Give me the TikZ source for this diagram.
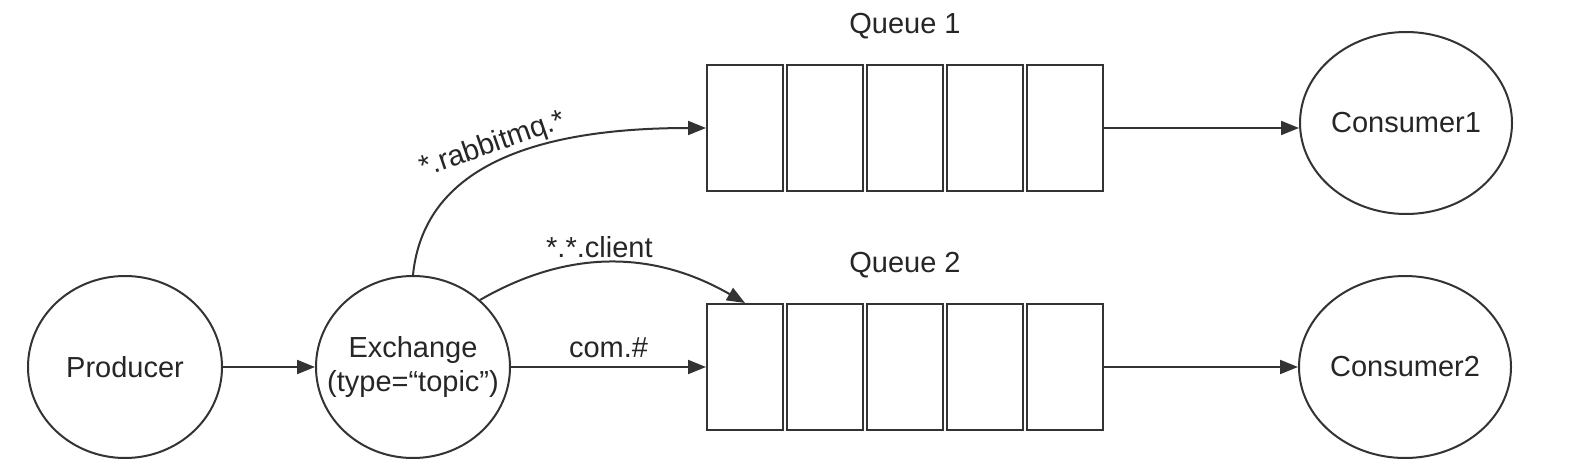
\documentclass[tikz,border=0pt]{standalone}
\usepackage{fontspec}
\setmainfont{Liberation Sans}
\usepackage{xcolor}
\usetikzlibrary{arrows.meta, positioning, shapes.geometric}

\begin{document}
\begin{tikzpicture}[
        x=0.5pt, y=0.5pt,
        endpoint/.style={draw, ellipse, line width=1pt, draw=black!80,
            minimum width=97pt, minimum height=91pt, inner sep=0pt,
            align=center, text=black!85, font=\fontsize{14.5}{17}\selectfont},
        slot/.style={draw, line width=1pt, draw=black!80,
            minimum width=38pt, minimum height=63pt, inner sep=0pt},
        qlabel/.style={text=black!85, font=\fontsize{14.5}{17}\selectfont},
        keylabel/.style={text=black!85, font=\fontsize{14.5}{17}\selectfont, inner sep=2pt},
        arrow/.style={-{Triangle[length=9pt, width=7pt]}, line width=1pt, color=black!80},
    ]
        \useasboundingbox (0,0) rectangle (1579,467);

        % Producer and exchange
        \node[endpoint] (producer) at (125,100) {Producer};
        \node[endpoint, inner sep=-12pt] (exchange) at (413,100) {Exchange\\(type=“topic”)};

        % Queues
        \foreach \i in {1,...,5} {
            \node[slot] (q1\i) at ({745+(\i-1)*80},339) {};
            \node[slot] (q2\i) at ({745+(\i-1)*80},100) {};
        }
        \node[qlabel, above=9pt of q13] (queue1) {Queue 1};
        \node[qlabel, above=9pt of q23] (queue2) {Queue 2};

        % Consumers
        \node[endpoint] (consumer1) at (1406,344) {Consumer1};
        \node[endpoint] (consumer2) at (1405,100) {Consumer2};

        % Arrows
        \draw[arrow] (producer.east) -- (exchange.west);
        \draw[arrow] (exchange.north) .. controls +(10,100) and +(-187,0) .. (q11.west);
        \node[keylabel, rotate=19] (rabbit) at (493,322) {*.rabbitmq.*};
        \draw[arrow] (exchange.45) to[out=30, in=150]
            node[keylabel, above, pos=0.45] (client) {*.*.client} (q21.north);
        \draw[arrow] (exchange.east) --
            node[keylabel, above=2pt] (com) {com.\#} (q21.west);
        \draw[arrow] (q15.east) -- (q15.east -| consumer1.west);
        \draw[arrow] (q25.east) -- (consumer2.west);

\end{tikzpicture}
\end{document}
